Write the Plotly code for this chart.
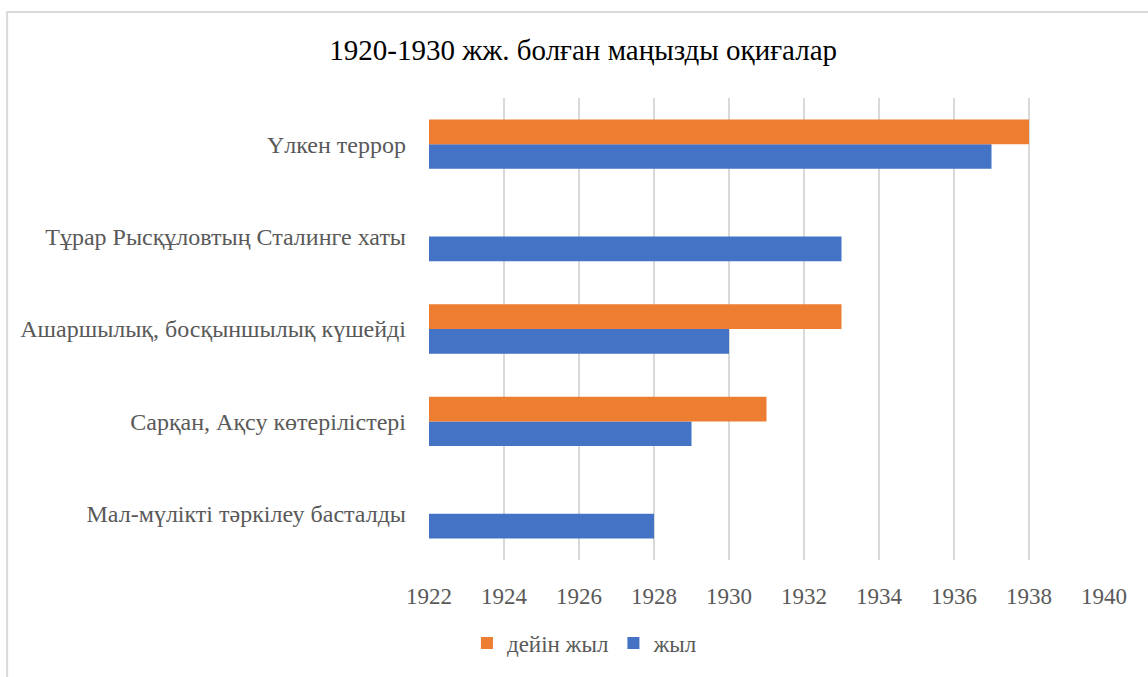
import plotly.graph_objects as go

categories = [
    "Мал-мүлікті тәркілеу басталды",
    "Сарқан, Ақсу көтерілістері",
    "Ашаршылық, босқыншылық күшейді",
    "Тұрар Рысқұловтың Сталинге хаты",
    "Үлкен террор",
]
zhyl = [1928, 1929, 1930, 1933, 1937]
dein_zhyl = [None, 1931, 1933, None, 1938]
tick_vals = list(range(1922, 1941, 2))
title_text = "1920-1930 жж. болған маңызды оқиғалар"

FONT = "Liberation Serif"
GRAY = "#595959"

fig = go.Figure()
fig.add_trace(go.Bar(
    y=categories, x=zhyl, orientation="h", name="жыл",
    marker=dict(color="#4472C4", line=dict(width=0)), legendrank=2,
))
fig.add_trace(go.Bar(
    y=categories, x=dein_zhyl, orientation="h", name="дейін жыл",
    marker=dict(color="#ED7D31", line=dict(width=0)), legendrank=1,
))

fig.update_layout(
    width=1148, height=677,
    margin=dict(l=429, r=44, t=98, b=108),
    paper_bgcolor="white", plot_bgcolor="white",
    barmode="group", bargap=0.466, bargroupgap=0,
    font=dict(family=FONT, color=GRAY, size=23),
    title=dict(
        text=title_text, x=0.508, xanchor="center", y=0.927, yanchor="middle",
        xref="container", yref="container",
        font=dict(family=FONT, size=29, color="#000000"),
    ),
    xaxis=dict(
        range=[1922, 1940], tickvals=tick_vals, showgrid=True,
        gridcolor="#d9d9d9", gridwidth=1.5, zeroline=False, showline=False,
        ticks="", ticklabelstandoff=20,
        tickfont=dict(family=FONT, size=23, color=GRAY),
    ),
    yaxis=dict(
        categoryorder="array", categoryarray=categories,
        showgrid=False, zeroline=False, showline=False, ticks="",
        ticklabelstandoff=22,
        tickfont=dict(family=FONT, size=24, color=GRAY),
    ),
    legend=dict(
        orientation="h", x=0.231, xanchor="center", y=-0.18, yanchor="middle",
        font=dict(family=FONT, size=23, color=GRAY),
        itemwidth=30, tracegroupgap=0,
    ),
    shapes=[dict(
        type="rect", xref="paper", yref="paper",
        x0=-0.625, x1=1.2, y0=-0.4, y1=1.186,
        line=dict(color="#d9d9d9", width=2), fillcolor="rgba(0,0,0,0)",
        layer="below",
    )],
)

fig.write_html(
    "out.html",
    config={"displayModeBar": False},
    post_script="document.body.style.margin='0';document.body.style.padding='0';",
)
